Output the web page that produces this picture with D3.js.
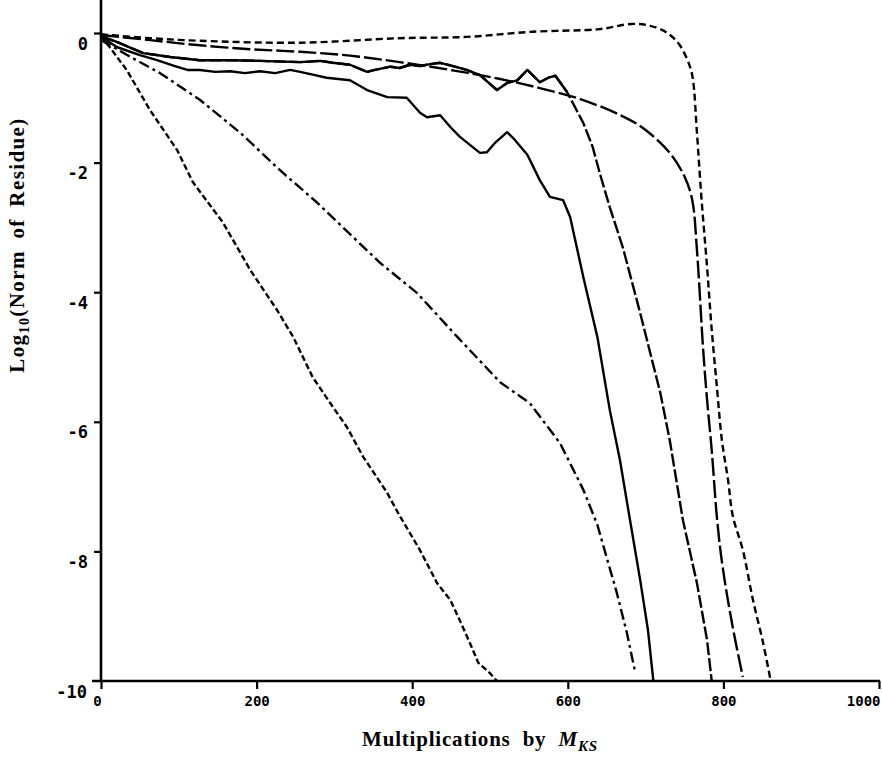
<!DOCTYPE html>
<html>
<head>
<meta charset="utf-8">
<script src="https://cdn.jsdelivr.net/npm/d3@7"></script>
<style>
  body { margin: 0; background: #fff; }
  svg { display: block; }
  .tick text { font-family: "DejaVu Sans Mono", monospace; font-weight: bold; }
  .title { font-family: "Liberation Serif", "Times New Roman", serif; font-weight: bold; }
</style>
</head>
<body>
<svg id="chart" width="882" height="763"></svg>
<script>
// tick values
const xTicks = [0, 200, 400, 600, 800, 1000];
const yTicks = [0, -2, -4, -6, -8];

// residue curves, [multiplications, log10 residue]
// top one, short dashes
const curveA = [[0,-0.02],[63,-0.08],[127,-0.12],[256,-0.15],[384,-0.08],[470,-0.06],[555,0.02],[641,0.06],
  [682,0.14],[706,0.11],[728,0.0],[744,-0.19],[757,-0.52],[761,-0.73],[766,-1.54],[772,-2.58],[779,-3.61],
  [785,-4.58],[792,-5.51],[798,-6.28],[806,-6.9],[812,-7.45],[825,-7.98],[838,-8.75],[851,-9.41],[860,-9.95]];
// smooth long dashes
const curveB = [[0,-0.03],[63,-0.11],[127,-0.19],[192,-0.25],[256,-0.29],[320,-0.35],[384,-0.45],[449,-0.57],
  [513,-0.71],[564,-0.85],[616,-1.02],[668,-1.27],[697,-1.47],[731,-1.85],[751,-2.24],[760,-2.58],[766,-3.35],
  [774,-4.89],[779,-5.66],[785,-6.44],[792,-7.52],[799,-8.24],[812,-9.17],[825,-9.94]];
// jagged one near -0.5, then long dashes down
const curveC = [[0,-0.05],[21,-0.14],[54,-0.31],[89,-0.37],[127,-0.42],[166,-0.42],[204,-0.43],[256,-0.45],
  [282,-0.43],[298,-0.46],[320,-0.49],[342,-0.6],[352,-0.57],[372,-0.52],[384,-0.54],[397,-0.49],[410,-0.51],
  [423,-0.48],[436,-0.46],[455,-0.52],[470,-0.57],[487,-0.65],[509,-0.88],[522,-0.77],[535,-0.73],[548,-0.57],
  [564,-0.76],[575,-0.69],[584,-0.66],[599,-0.91],[620,-1.39],[632,-1.76],[641,-2.16],[654,-2.69],[671,-3.32],
  [693,-4.32],[719,-5.56],[731,-6.28],[748,-7.52],[766,-8.49],[779,-9.37],[785,-10.0]];
// solid
const curveD = [[0,-0.06],[21,-0.22],[50,-0.34],[72,-0.42],[95,-0.51],[111,-0.57],[127,-0.57],[147,-0.6],
  [166,-0.59],[185,-0.62],[204,-0.59],[224,-0.62],[243,-0.57],[256,-0.6],[275,-0.65],[290,-0.69],[320,-0.73],
  [342,-0.88],[368,-0.99],[393,-1.0],[410,-1.23],[419,-1.3],[436,-1.27],[449,-1.45],[461,-1.6],[487,-1.85],
  [496,-1.84],[506,-1.7],[522,-1.53],[532,-1.65],[548,-1.88],[564,-2.27],[577,-2.53],[594,-2.58],[603,-2.84],
  [620,-3.77],[638,-4.69],[654,-5.82],[667,-6.59],[680,-7.52],[693,-8.44],[703,-9.21],[710,-10.0]];
// dash-dot
const curveE = [[0,-0.11],[41,-0.39],[76,-0.62],[127,-1.03],[179,-1.54],[234,-2.16],[278,-2.62],[324,-3.15],
  [359,-3.55],[406,-4.01],[458,-4.69],[513,-5.39],[551,-5.71],[590,-6.33],[620,-7.05],[638,-7.59],[663,-8.64],
  [676,-9.26],[686,-9.83]];
// steepest, fine dashes
const curveF = [[0,-0.05],[12,-0.23],[33,-0.57],[63,-1.19],[98,-1.81],[118,-2.3],[157,-2.93],[192,-3.66],
  [226,-4.27],[247,-4.69],[272,-5.31],[298,-5.77],[316,-6.08],[337,-6.54],[368,-7.1],[382,-7.41],[410,-7.98],
  [432,-8.49],[449,-8.75],[461,-9.06],[474,-9.41],[485,-9.72],[500,-9.88],[509,-10.0]];

const svg = d3.select("#chart");
const x = d3.scaleLinear().domain([0, 1000]).range([101, 879]);
const y = d3.scaleLinear().domain([0, -10]).range([33, 681]);

const series = [
  {data: curveA, dash: "7,4", smooth: true},
  {data: curveB, dash: "18,4", smooth: true},
  {data: curveC, dash: "13,3", smooth: false},
  // jagged part of C reads as a continuous line
  {data: curveC.filter(d => d[0] <= 599), dash: null, smooth: false},
  {data: curveD, dash: null, smooth: false},
  {data: curveE, dash: "11,4,3,4", smooth: false},
  {data: curveF, dash: "6,3", smooth: false}
];

series.forEach(function (s) {
  let line = d3.line()
    .x(d => x(d[0]))
    .y(d => y(d[1]))
    .curve(s.smooth ? d3.curveCatmullRom.alpha(0.5) : d3.curveLinear);
  svg.append("path")
    .datum(s.data)
    .attr("d", line)
    .attr("fill", "none")
    .attr("stroke", "#000")
    .attr("stroke-width", 2.4)
    .attr("stroke-linejoin", "round")
    .attr("stroke-dasharray", s.dash);
});

// y axis
let yAxis = svg.append("g")
  .attr("transform", "translate(" + x(0) + ",0)")
  .call(d3.axisLeft(y).tickValues(yTicks).tickSize(7).tickFormat(d => String(d)));
yAxis.select(".domain").remove();
yAxis.selectAll(".tick line").attr("stroke-width", 2.2);
yAxis.selectAll(".tick text")
  .attr("x", -13).attr("dy", "0.95em")
  .style("font-size", "17px");
svg.append("line")
  .attr("x1", x(0)).attr("x2", x(0))
  .attr("y1", 0).attr("y2", y(-10))
  .attr("stroke", "#000").attr("stroke-width", 2.6);

// -10 label sits at the corner
svg.append("text")
  .attr("x", 87).attr("y", 698)
  .attr("text-anchor", "end")
  .style("font-family", "DejaVu Sans Mono, monospace")
  .style("font-weight", "bold")
  .style("font-size", "17px")
  .text("-10");

// x axis
let xAxis = svg.append("g")
  .attr("transform", "translate(0," + y(-10) + ")")
  .call(d3.axisBottom(x).tickValues(xTicks).tickSize(8).tickFormat(d => String(d)));
xAxis.select(".domain").remove();
xAxis.selectAll(".tick line").attr("stroke-width", 2.2);
xAxis.selectAll(".tick text")
  .attr("y", 15)
  .style("font-size", "14px");
xAxis.selectAll(".tick text").filter(d => d === 0).attr("dx", -4);
xAxis.selectAll(".tick text").filter(d => d === 1000).attr("text-anchor", "end").attr("dx", 1);
svg.append("line")
  .attr("x1", 92).attr("x2", x(1000) + 1)
  .attr("y1", y(-10)).attr("y2", y(-10))
  .attr("stroke", "#000").attr("stroke-width", 2.6);

// titles
let yTitle = svg.append("text")
  .attr("class", "title")
  .attr("transform", "translate(24,245) rotate(-90)")
  .attr("text-anchor", "middle")
  .style("font-size", "21px")
  .style("letter-spacing", "1.4px")
  .style("word-spacing", "5px");
yTitle.append("tspan").text("Log");
yTitle.append("tspan").attr("dy", 5).style("font-size", "14px").text("10");
yTitle.append("tspan").attr("dy", -5).text("(Norm of Residue)");

let xTitle = svg.append("text")
  .attr("class", "title")
  .attr("x", 480).attr("y", 746)
  .attr("text-anchor", "middle")
  .style("font-size", "21px")
  .style("letter-spacing", "0.8px")
  .style("word-spacing", "6px");
xTitle.append("tspan").text("Multiplications by ");
xTitle.append("tspan").style("font-style", "italic").text("M");
xTitle.append("tspan").attr("dy", 5).style("font-style", "italic").style("font-size", "15px").text("KS");
</script>
</body>
</html>
